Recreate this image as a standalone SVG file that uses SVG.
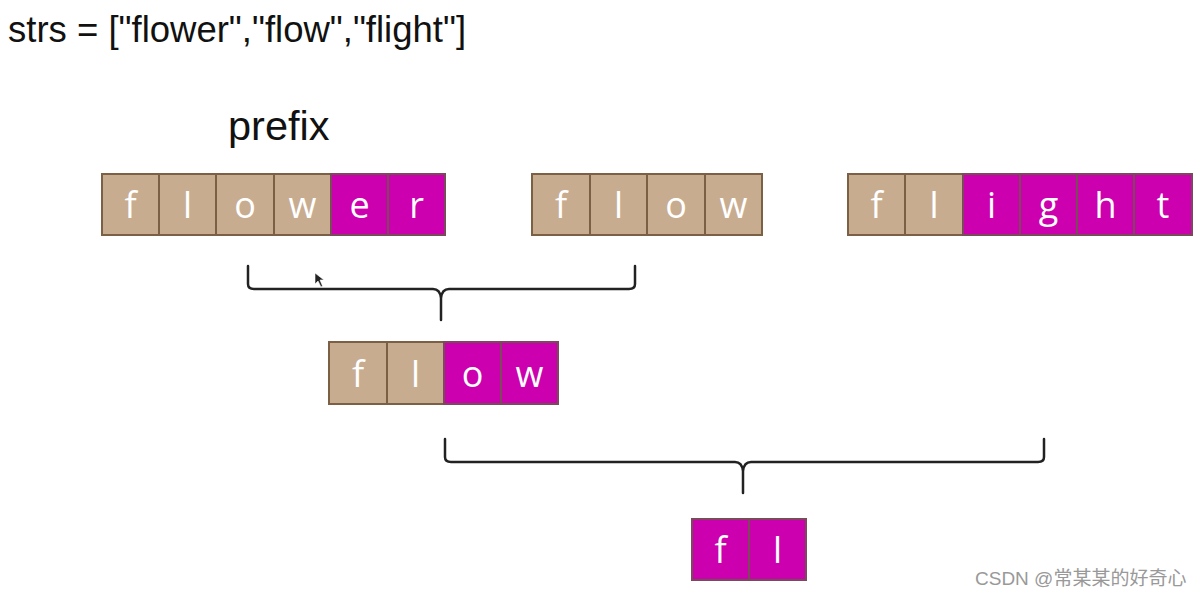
<svg xmlns="http://www.w3.org/2000/svg" width="1202" height="598" viewBox="0 0 1202 598">
<style>
.t{fill:#c8ac90;stroke:#7b6046;stroke-width:2}
.m{fill:#cc00ae;stroke:#7b4a5a;stroke-width:2}
.l{font-family:"Open Sans","Liberation Sans",sans-serif;font-size:36px;fill:#fff;text-anchor:middle}
.h{font-family:"Liberation Sans",Arial,sans-serif;fill:#111}
.b{fill:none;stroke:#222;stroke-width:2.5;stroke-linecap:round;stroke-linejoin:round}
</style>
<rect width="1202" height="598" fill="#fff"/>
<text class="h" x="8" y="42" font-size="36.5">strs = ["flower","flow","flight"]</text>
<text class="h" x="228" y="140" font-size="41.5">prefix</text>

<g id="flower">
<rect class="t" x="102" y="174" width="57" height="61"/><text class="l" x="130.5" y="218">f</text>
<rect class="t" x="159" y="174" width="57" height="61"/><text class="l" x="187.5" y="218">l</text>
<rect class="t" x="216" y="174" width="58" height="61"/><text class="l" x="245" y="218">o</text>
<rect class="t" x="274" y="174" width="57" height="61"/><text class="l" x="302.5" y="218">w</text>
<rect class="m" x="331" y="174" width="57" height="61"/><text class="l" x="359.5" y="218">e</text>
<rect class="m" x="388" y="174" width="57" height="61"/><text class="l" x="416.5" y="218">r</text>
</g>
<g id="flow">
<rect class="t" x="532" y="174" width="58" height="61"/><text class="l" x="561" y="218">f</text>
<rect class="t" x="590" y="174" width="57" height="61"/><text class="l" x="618.5" y="218">l</text>
<rect class="t" x="647" y="174" width="58" height="61"/><text class="l" x="676" y="218">o</text>
<rect class="t" x="705" y="174" width="57" height="61"/><text class="l" x="733.5" y="218">w</text>
</g>
<g id="flight">
<rect class="t" x="848" y="174" width="57" height="61"/><text class="l" x="876.5" y="218">f</text>
<rect class="t" x="905" y="174" width="58" height="61"/><text class="l" x="934" y="218">l</text>
<rect class="m" x="963" y="174" width="57" height="61"/><text class="l" x="991.5" y="218">i</text>
<rect class="m" x="1020" y="174" width="57" height="61"/><text class="l" x="1048.5" y="218">g</text>
<rect class="m" x="1077" y="174" width="57" height="61"/><text class="l" x="1105.5" y="218">h</text>
<rect class="m" x="1134" y="174" width="58" height="61"/><text class="l" x="1163" y="218">t</text>
</g>
<g id="flow2">
<rect class="t" x="329" y="342" width="58" height="62"/><text class="l" x="358" y="387">f</text>
<rect class="t" x="387" y="342" width="57" height="62"/><text class="l" x="415.5" y="387">l</text>
<rect class="m" x="444" y="342" width="57" height="62"/><text class="l" x="472.5" y="387">o</text>
<rect class="m" x="501" y="342" width="57" height="62"/><text class="l" x="529.5" y="387">w</text>
</g>
<g id="fl">
<rect class="m" x="692" y="519" width="57" height="61"/><text class="l" x="720.5" y="563">f</text>
<rect class="m" x="749" y="519" width="57" height="61"/><text class="l" x="777.5" y="563">l</text>
</g>

<g id="connectors">
<path class="b" d="M248 266 V284 Q248 289 254 289 H433 Q440 289 441 298 V320 M441 298 Q442 289 449 289 H629 Q635 289 635 284 V266"/>
<path class="b" d="M445 439 V457 Q445 462 451 462 H735 Q742 462 743 471 V493 M743 471 Q744 462 751 462 H1038 Q1044 462 1044 457 V439"/>
</g>
<path d="M315 273 L315 284 L318 281 L321 287 L322.5 286 L320 280 L324 280 Z" fill="#222" stroke="#fff" stroke-width="0.6"/>
<text x="975" y="585" font-family="'Liberation Sans','Noto Sans CJK SC',sans-serif" font-size="19" fill="#999">CSDN @常某某的好奇心</text>
</svg>
